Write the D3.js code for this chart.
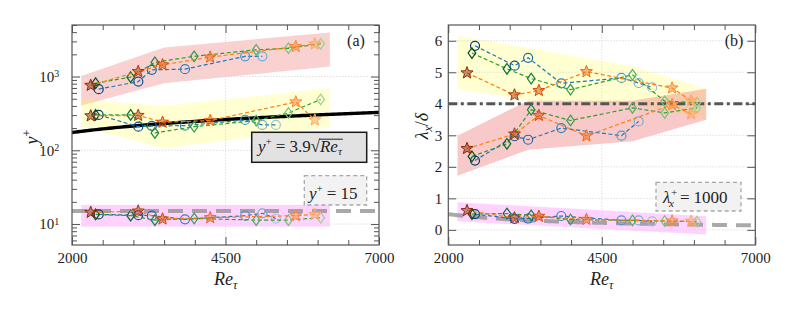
<!DOCTYPE html>
<html>
<head>
<meta charset="utf-8">
<script src="https://cdn.jsdelivr.net/npm/d3@7"></script>
<style>
  body { margin: 0; background: #fff; }
  svg text { font-family: "Liberation Serif", "Times New Roman", "DejaVu Serif", serif !important; fill: #222; }
</style>
</head>
<body>
<svg id="chart" width="793" height="318"></svg>
<script>
// Re_tau of each marker family
const reCircle  = [2435, 3080, 3300, 3840, 4820, 5100, 5320]
const reDiamond = [2385, 2955, 3350, 3990, 5000, 5525, 6050]
const reStar    = [2305, 3078, 3475, 4250, 5645, 5955]

// panel (a): y+ of the three groups
const aCircleTop  = [674, 855, 1233, 1260, 1880, 1880]
const aCircleMid  = [302, 209, 214, 216, 258, 221, 221]
const aCircleBot  = [13.5, 13.2, 13.0, 11.6, 13.0, 14.0, 11.9]
const aDiamondTop = [813, 981, 1560, 1880, 2305, 2417, 2780]
const aDiamondMid = [302, 302, 172, 209, 253, 321, 489]
const aDiamondBot = [13.5, 13.0, 11.3, 11.9, 11.3, 11.3, 12.2]
const aStarTop    = [759, 1169, 1442, 1833, 2552, 2760]
const aStarMid    = [293, 297, 240, 253, 453, 258]
const aStarBot    = [14.4, 15.0, 11.7, 12.2, 13.0, 13.5]

// panel (b): lambda_x / delta
const bCircleTop  = [5.84, 5.21, 5.46, 4.65, 4.82, 4.66, 4.52]
const bCircleMid  = [2.20, 2.97, 2.86, 3.23, 2.99, 3.44]
const bCircleBot  = [0.50, 0.35, 0.36, 0.44, 0.30, 0.30, 0.27]
const bDiamondTop = [5.61, 5.11, 4.80, 4.45, 4.92, 4.08, 4.04]
const bDiamondMid = [2.33, 2.73, 3.81, 3.47, 3.87, 3.71, 3.87]
const bDiamondBot = [0.50, 0.52, 0.46, 0.33, 0.30, 0.28, 0.26]
const bStarTop    = [4.98, 4.28, 4.42, 5.02, 4.50, 4.10]
const bStarMid    = [2.58, 3.04, 3.63, 2.98, 3.97, 3.68]
const bStarBot    = [0.61, 0.38, 0.43, 0.33, 0.28, 0.27]

// shaded bands: Re breakpoints, lower and upper edges
const aBandTopRe = [2150, 3500, 6200], aBandTopLo = [404, 813, 1367], aBandTopHi = [1020, 2480, 3950]
const aBandMidRe = [2150, 3500, 6200], aBandMidLo = [209, 107, 203], aBandMidHi = [493, 400, 695]
const aBandBotRe = [2150, 6200], aBandBotLo = [9.2, 9.2], aBandBotHi = [18.1, 18.1]
const bBandTopRe = [2150, 3300, 5000, 6200], bBandTopLo = [4.48, 4.1, 4.0, 3.5], bBandTopHi = [6.17, 5.77, 5.19, 4.48]
const bBandMidRe = [2150, 3300, 5000, 6200], bBandMidLo = [1.72, 2.54, 2.81, 3.49], bBandMidHi = [2.99, 4.1, 4.1, 4.48]
const bBandBotRe = [2150, 6200], bBandBotLo = [0.27, -0.15], bBandBotHi = [0.88, 0.43]

const xTicks = [2000, 4500, 7000]
const xMinor = [2500, 3000, 3500, 4000, 5000, 5500, 6000, 6500]
const aTicks = [10, 100, 1000]
const aMinor = [6, 7, 8, 9, 20, 30, 40, 50, 60, 70, 80, 90, 200, 300, 400, 500, 600, 700, 800, 900, 2000, 3000, 4000, 5000]
const bTicks = [0, 1, 2, 3, 4, 5, 6]

const svg = d3.select("#chart")
const yTop = 25, yBot = 245

const xa = d3.scaleLinear().domain([2000, 7000]).range([72, 379])
const ya = d3.scaleLog().domain([5.2, 5000]).range([yBot, yTop])
const xb = d3.scaleLinear().domain([2000, 7000]).range([448.3, 755.3])
const yb = d3.scaleLinear().domain([-0.48, 6.5]).range([yBot, yTop])

const zip = (re, v) => v.map((d, i) => [re[i], d])

// marker shapes
const starPath = (R, r) => {
  let p = []
  for (let i = 0; i < 10; i++) {
    let a = -Math.PI / 2 + i * Math.PI / 5
    let rr = i % 2 ? r : R
    p.push([rr * Math.cos(a), rr * Math.sin(a)])
  }
  return "M" + p.map(d => d.join(",")).join("L") + "Z"
}
const diamondPath = "M0,-5.3L3.8,0L0,5.3L-3.8,0Z"

const families = {
  circle:  { re: reCircle,  line: "#1f77b4", interp: d3.interpolateBlues },
  diamond: { re: reDiamond, line: "#2ca02c", interp: d3.interpolateGreens },
  star:    { re: reStar,    line: "#ff7f0e", interp: d3.interpolateOranges }
}

function panel(id, x, y, bands) {
  let g = svg.append("g")
  svg.append("clipPath").attr("id", id)
    .append("rect").attr("x", x.range()[0]).attr("y", yTop)
    .attr("width", x.range()[1] - x.range()[0]).attr("height", yBot - yTop)
  let plot = g.append("g").attr("clip-path", `url(#${id})`)

  bands.forEach(b => {
    let area = d3.area().x(d => x(d[0])).y0(d => y(d[1])).y1(d => y(d[2]))
    plot.append("path")
      .attr("d", area(b.re.map((r, i) => [r, b.lo[i], b.hi[i]])))
      .attr("fill", b.color).attr("fill-opacity", b.op)
  })
  return { g, plot }
}

function grid(plot, x, y, yt) {
  plot.append("line").attr("x1", x(4500)).attr("x2", x(4500)).attr("y1", yTop).attr("y2", yBot)
    .attr("stroke", "#d8d8d8").attr("stroke-width", 0.8).attr("stroke-dasharray", "1.5,1.5")
  yt.forEach(t => plot.append("line").attr("x1", x.range()[0]).attr("x2", x.range()[1])
    .attr("y1", y(t)).attr("y2", y(t))
    .attr("stroke", "#d8d8d8").attr("stroke-width", 0.8).attr("stroke-dasharray", "1.5,1.5"))
}

function drawSeries(plot, x, y, fam, vals) {
  let f = families[fam]
  let pts = zip(f.re, vals)
  let n = f.re.length
  let col = i => f.interp(0.97 - 0.57 * i / (n - 1))
  plot.append("path")
    .attr("d", d3.line().x(d => x(d[0])).y(d => y(d[1]))(pts))
    .attr("fill", "none").attr("stroke", f.line).attr("stroke-width", 1.2)
    .attr("stroke-dasharray", "4,2.5")
  let m = plot.selectAll(null).data(pts).enter()
  if (fam == "circle") {
    m.append("circle").attr("cx", d => x(d[0])).attr("cy", d => y(d[1])).attr("r", 4.5)
      .attr("fill", "none").attr("stroke", (d, i) => col(i)).attr("stroke-width", 1.2)
  } else if (fam == "diamond") {
    m.append("path").attr("d", diamondPath)
      .attr("transform", d => `translate(${x(d[0])},${y(d[1])})`)
      .attr("fill", "none").attr("stroke", (d, i) => col(i)).attr("stroke-width", 1.2)
  } else {
    m.append("path").attr("d", starPath(6.3, 2.7))
      .attr("transform", d => `translate(${x(d[0])},${y(d[1])})`)
      .attr("fill", (d, i) => col(i)).attr("fill-opacity", 0.5)
      .attr("stroke", (d, i) => col(i)).attr("stroke-width", 1)
  }
}

function axes(g, x, y, yMajor, yMinor, yFmt) {
  let x0 = x.range()[0], x1 = x.range()[1]
  let style = s => s.call(a => a.select(".domain").remove())
    .call(a => a.selectAll("line").attr("stroke", "#555").attr("stroke-width", 1))
    .call(a => a.selectAll("text").style("font-size", "15px").attr("fill", "#222"))
  g.append("g").attr("transform", `translate(0,${yBot})`)
    .call(d3.axisBottom(x).tickValues(xTicks).tickSize(-8).tickPadding(7).tickFormat(d3.format("d"))).call(style)
  g.append("g").attr("transform", `translate(0,${yBot})`)
    .call(d3.axisBottom(x).tickValues(xMinor).tickSize(-5).tickFormat("")).call(style)
  g.append("g").attr("transform", `translate(0,${yTop})`)
    .call(d3.axisTop(x).tickValues(xTicks).tickSize(-8).tickFormat("")).call(style)
  g.append("g").attr("transform", `translate(0,${yTop})`)
    .call(d3.axisTop(x).tickValues(xMinor).tickSize(-5).tickFormat("")).call(style)

  let ly = g.append("g").attr("transform", `translate(${x0},0)`)
    .call(d3.axisLeft(y).tickValues(yMajor).tickSize(-8).tickPadding(6).tickFormat(yFmt)).call(style)
  g.append("g").attr("transform", `translate(${x1},0)`)
    .call(d3.axisRight(y).tickValues(yMajor).tickSize(-8).tickFormat("")).call(style)
  if (yMinor) {
    g.append("g").attr("transform", `translate(${x0},0)`)
      .call(d3.axisLeft(y).tickValues(yMinor).tickSize(-5).tickFormat("")).call(style)
    g.append("g").attr("transform", `translate(${x1},0)`)
      .call(d3.axisRight(y).tickValues(yMinor).tickSize(-5).tickFormat("")).call(style)
  }
  g.append("rect").attr("x", x0).attr("y", yTop).attr("width", x1 - x0).attr("height", yBot - yTop)
    .attr("fill", "none").attr("stroke", "#555").attr("stroke-width", 1.2)
  return ly
}

// lay out a row of text pieces; returns positions of each piece
function mathText(g, x, yBase, size, parts) {
  let cx = x, out = []
  parts.forEach(p => {
    let s = size * (p.scale || 1)
    let t = g.append("text").attr("x", cx + (p.dx || 0)).attr("y", yBase + (p.dy || 0))
      .style("font-size", s + "px").style("font-style", p.it ? "italic" : "normal")
      .text(p.t)
    let w = t.node().getComputedTextLength()
    out.push({ x0: cx + (p.dx || 0), x1: cx + (p.dx || 0) + w })
    cx += w + (p.dx || 0) + (p.gap || 0)
  })
  return out
}

// ---------- panel (a)
const A = panel("clipA", xa, ya, [
  { re: aBandTopRe, lo: aBandTopLo, hi: aBandTopHi, color: "#f07070", op: 0.32 },
  { re: aBandMidRe, lo: aBandMidLo, hi: aBandMidHi, color: "#ffff30", op: 0.22 },
  { re: aBandBotRe, lo: aBandBotLo, hi: aBandBotHi, color: "#ff30ff", op: 0.22 }
])
grid(A.plot, xa, ya, aTicks)

let reLine = d3.range(2000, 7001, 50)
A.plot.append("path")
  .attr("d", d3.line().x(d => xa(d)).y(d => ya(3.9 * Math.sqrt(d)))(reLine))
  .attr("fill", "none").attr("stroke", "#000").attr("stroke-width", 3.4)
A.plot.append("line").attr("x1", xa(2000)).attr("x2", xa(7000)).attr("y1", ya(15)).attr("y2", ya(15))
  .attr("stroke", "#8c8c8c").attr("stroke-opacity", 0.75).attr("stroke-width", 4).attr("stroke-dasharray", "15,9")

drawSeries(A.plot, xa, ya, "circle", aCircleTop)
drawSeries(A.plot, xa, ya, "diamond", aDiamondTop)
drawSeries(A.plot, xa, ya, "star", aStarTop)
drawSeries(A.plot, xa, ya, "circle", aCircleMid)
drawSeries(A.plot, xa, ya, "diamond", aDiamondMid)
drawSeries(A.plot, xa, ya, "star", aStarMid)
drawSeries(A.plot, xa, ya, "circle", aCircleBot)
drawSeries(A.plot, xa, ya, "diamond", aDiamondBot)
drawSeries(A.plot, xa, ya, "star", aStarBot)

let la = axes(A.g, xa, ya, aTicks, aMinor, d => "10")
la.selectAll(".tick text").each(function (d) {
  let t = d3.select(this).attr("dx", "-0.45em")
  t.append("tspan").attr("dy", "-0.45em").style("font-size", "10px").text(Math.round(Math.log10(d)))
})

// legend boxes (a)
A.g.append("rect").attr("x", 251.7).attr("y", 132.3).attr("width", 115).attr("height", 30)
  .attr("fill", "#e2e2e2").attr("stroke", "#1a1a1a").attr("stroke-width", 1.5)
let pa = mathText(A.g, 258, 152, 17, [
  { t: "y", it: 1 }, { t: "+", scale: 0.65, dy: -7, gap: 4 }, { t: "=", gap: 4 }, { t: "3.9" },
  { t: "√" }, { t: "Re", it: 1 }, { t: "τ", it: 1, scale: 0.65, dy: 3 }
])
A.g.append("line").attr("x1", pa[4].x1 - 0.5).attr("x2", pa[6].x1 + 1).attr("y1", 139.2).attr("y2", 139.2)
  .attr("stroke", "#222").attr("stroke-width", 1)

A.g.append("rect").attr("x", 304.3).attr("y", 175.7).attr("width", 62.4).attr("height", 29.3)
  .attr("fill", "#f2f2f2").attr("stroke", "#a8a8a8").attr("stroke-width", 1.3).attr("stroke-dasharray", "4,3")
mathText(A.g, 309, 199, 17, [
  { t: "y", it: 1 }, { t: "+", scale: 0.65, dy: -7, gap: 4 }, { t: "=", gap: 4 }, { t: "15" }
])

A.g.append("text").attr("x", 356).attr("y", 46).attr("text-anchor", "middle")
  .style("font-size", "16px").text("(a)")

// axis titles (a)
let ta = A.g.append("text").attr("x", 214).attr("y", 285).style("font-size", "18px")
ta.append("tspan").style("font-style", "italic").text("Re")
ta.append("tspan").style("font-style", "italic").style("font-size", "12px").attr("dy", 4).text("τ")
let yaT = A.g.append("text").attr("transform", "translate(38,137) rotate(-90)")
  .attr("text-anchor", "middle").style("font-size", "18px")
yaT.append("tspan").style("font-style", "italic").text("y")
yaT.append("tspan").style("font-size", "12px").attr("dy", -7).text("+")

// ---------- panel (b)
const B = panel("clipB", xb, yb, [
  { re: bBandTopRe, lo: bBandTopLo, hi: bBandTopHi, color: "#ffff30", op: 0.22 },
  { re: bBandMidRe, lo: bBandMidLo, hi: bBandMidHi, color: "#f07070", op: 0.38 },
  { re: bBandBotRe, lo: bBandBotLo, hi: bBandBotHi, color: "#ff30ff", op: 0.22 }
])
grid(B.plot, xb, yb, bTicks)

B.plot.append("line").attr("x1", xb(2000)).attr("x2", xb(7000)).attr("y1", yb(4)).attr("y2", yb(4))
  .attr("stroke", "#555").attr("stroke-width", 3).attr("stroke-dasharray", "9,3.5,3,3.5")
B.plot.append("path")
  .attr("d", d3.line().x(d => xb(d)).y(d => yb(1000 / d))(reLine))
  .attr("fill", "none").attr("stroke", "#8c8c8c").attr("stroke-opacity", 0.75)
  .attr("stroke-width", 4).attr("stroke-dasharray", "15,9")

drawSeries(B.plot, xb, yb, "circle", bCircleTop)
drawSeries(B.plot, xb, yb, "diamond", bDiamondTop)
drawSeries(B.plot, xb, yb, "star", bStarTop)
drawSeries(B.plot, xb, yb, "circle", bCircleMid)
drawSeries(B.plot, xb, yb, "diamond", bDiamondMid)
drawSeries(B.plot, xb, yb, "star", bStarMid)
drawSeries(B.plot, xb, yb, "circle", bCircleBot)
drawSeries(B.plot, xb, yb, "diamond", bDiamondBot)
drawSeries(B.plot, xb, yb, "star", bStarBot)

axes(B.g, xb, yb, bTicks, null, d3.format("d"))

B.g.append("rect").attr("x", 656).attr("y", 182.3).attr("width", 85).attr("height", 28.7)
  .attr("fill", "#f2f2f2").attr("stroke", "#a8a8a8").attr("stroke-width", 1.3).attr("stroke-dasharray", "4,3")
mathText(B.g, 663, 203, 17, [
  { t: "λ", it: 1 }, { t: "+", scale: 0.65, dy: -7, dx: 0.5 }, { t: "x", it: 1, scale: 0.65, dy: 4, dx: -8, gap: 6 },
  { t: "=", gap: 4 }, { t: "1000" }
])

B.g.append("text").attr("x", 734).attr("y", 46).attr("text-anchor", "middle")
  .style("font-size", "16px").text("(b)")

let tb = B.g.append("text").attr("x", 590).attr("y", 285).style("font-size", "18px")
tb.append("tspan").style("font-style", "italic").text("Re")
tb.append("tspan").style("font-style", "italic").style("font-size", "12px").attr("dy", 4).text("τ")
let ybT = B.g.append("text").attr("transform", "translate(428,126) rotate(-90)")
  .attr("text-anchor", "middle").style("font-size", "18px")
ybT.append("tspan").style("font-style", "italic").text("λ")
ybT.append("tspan").style("font-style", "italic").style("font-size", "12px").attr("dy", 4).text("x")
ybT.append("tspan").attr("dy", -4).text("/")
ybT.append("tspan").style("font-style", "italic").text("δ")
</script>
</body>
</html>
